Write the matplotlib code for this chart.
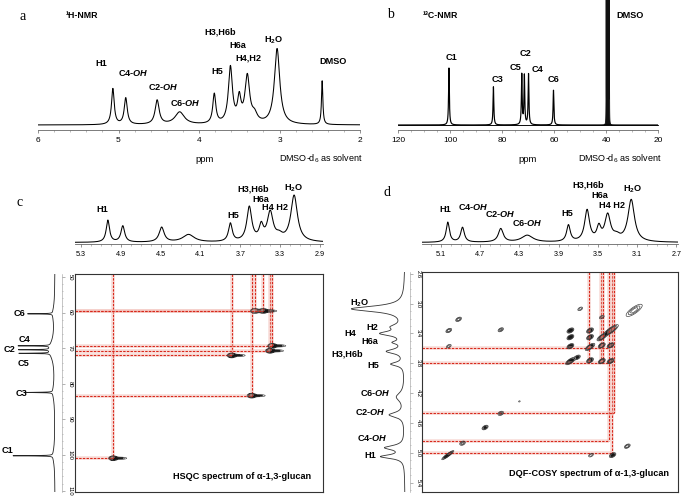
import numpy as np
import matplotlib.pyplot as plt
from matplotlib.ticker import MultipleLocator, FixedLocator

W, H = 685, 498

plt.rcParams["font.family"] = ["Liberation Sans", "DejaVu Sans"]
plt.rcParams["mathtext.fontset"] = "custom"
plt.rcParams["mathtext.rm"] = "Liberation Sans"
plt.rcParams["mathtext.bf"] = "Liberation Sans:bold"
plt.rcParams["mathtext.it"] = "Liberation Sans:bold:italic"

# ── data ────────────────────────────────────────────────────────────────────
# 1H peaks: H1, C4-OH, C2-OH, C6-OH, H5, H3/H6b, H6a, H4, H2, H2O
h1_amp = [0.46, 0.34, 0.31, 0.16, 0.38, 0.72, 0.30, 0.60, 0.10, 0.97]
h1_fwhm = [0.04, 0.045, 0.06, 0.14, 0.045, 0.06, 0.05, 0.07, 0.08, 0.08]
h1_a_ppm = [5.07, 4.91, 4.52, 4.24, 3.81, 3.61, 3.50, 3.40, 3.31, 3.03]    # panel a
h1_cd_ppm = [5.03, 4.88, 4.49, 4.22, 3.80, 3.61, 3.49, 3.40, 3.31, 3.16]   # panels c, d
dmso_h = (2.47, 0.56, 0.02)

# 13C peaks: C1, C3, C5, C2, C4, C6
c13_ppm = [100.4, 83.3, 72.4, 71.4, 69.8, 60.2]
c13_amp = [1.0, 0.67, 0.88, 0.86, 0.89, 0.61]
dmso_c_ppm = [38.87, 39.08, 39.29, 39.5, 39.71, 39.92, 40.13]
dmso_c_amp = [2.6, 3, 3, 3, 3, 3, 2.6]

# HSQC 13C projection (pixel heights) and cross peaks
c13_proj_ppm = [60.3, 69.3, 70.4, 71.4, 82.4, 100.2]
c13_proj_h = [25, 32, 31, 31, 28, 40]
hsqc_h = [4.976, 3.586, 3.787, 3.402, 3.379, 3.553, 3.47]
hsqc_c = [100.9, 83.3, 72.0, 70.7, 69.3, 59.5, 59.5]

# DQF-COSY 1H projection (pixel heights)
cosy_proj_ppm = [3.07, 3.31, 3.40, 3.52, 3.64, 3.81, 4.25, 4.49, 4.93, 5.05]
cosy_proj_h = [53, 10, 22, 9, 17, 13, 8, 15, 19, 23]
cosy_proj_fwhm = [0.09, 0.08, 0.07, 0.05, 0.07, 0.06, 0.14, 0.08, 0.07, 0.06]

# diagonal peaks (x, y, amp, sigma along diagonal, sigma across)
cosy_diag = [
    (5.03, 5.03, 1.0, 0.040, 0.008),
    (4.88, 4.87, 0.40, 0.020, 0.014),
    (4.49, 4.47, 0.40, 0.020, 0.014),
    (4.30, 4.31, 0.15, 0.010, 0.008),
    (3.78, 3.77, 1.0, 0.030, 0.012),
    (3.58, 3.58, 1.0, 0.030, 0.012),
    (3.46, 3.45, 1.0, 0.030, 0.012),
    (3.37, 3.36, 1.0, 0.050, 0.014),
    (3.13, 3.09, 0.42, 0.065, 0.022),
]
# off-diagonal peaks (x, y, amp)
cosy_cross = [
    (3.78, 3.36, 1.0), (3.78, 3.45, 1.0), (3.78, 3.57, 1.0),
    (3.58, 3.36, 1.0), (3.58, 3.45, 1.0), (3.58, 3.76, 1.0),
    (3.46, 3.56, 1.0), (3.37, 3.56, 1.0), (3.46, 3.77, 1.0), (3.37, 3.77, 1.0),
    (3.71, 3.72, 0.6), (3.35, 5.03, 0.8), (3.57, 5.03, 0.3),
    (4.92, 3.21, 0.5), (5.02, 3.36, 0.5), (4.49, 3.35, 0.4), (5.02, 3.57, 0.3),
    (3.20, 4.91, 0.5), (4.65, 4.66, 0.6), (3.68, 3.07, 0.3), (3.46, 3.18, 0.3),
]
cosy_vx = [3.587, 3.464, 3.444, 3.383, 3.352, 3.332]
cosy_vy_end = [3.79, 3.79, 3.79, 4.84, 5.00, 4.47]
cosy_hy = [3.59, 3.79, 4.47, 4.84, 5.00]
cosy_hx_end = [3.40, 3.40, 3.332, 3.383, 3.352]

RED = "#d8281b"


def rect(x0, y0, x1, y1):
    return [x0 / W, 1 - y1 / H, (x1 - x0) / W, (y1 - y0) / H]


def label(x, y, s, size=6.6, weight="bold", **kw):
    fig.text(x / W, 1 - y / H, s, ha="center", va="center", fontsize=size,
             fontweight=weight, **kw)


def lorentz(x, ppm, amp, fwhm):
    y = np.zeros_like(x)
    for p, a, w in zip(ppm, amp, fwhm):
        hw = w / 2
        y += a * hw**2 / ((x - p) ** 2 + hw**2)
    return y


def spectrum_axes(ax, size=6):
    for s in ("top", "right", "left"):
        ax.spines[s].set_visible(False)
    ax.spines["bottom"].set_color("#666")
    ax.spines["bottom"].set_linewidth(0.6)
    ax.set_yticks([])
    ax.tick_params(axis="x", which="major", length=2.5, width=0.5, color="#666",
                   labelsize=size, pad=2.5)
    ax.tick_params(axis="x", which="minor", length=1.5, width=0.4, color="#888")
    ax.patch.set_visible(False)


def red_line(ax, xs, ys):
    ax.plot(xs, ys, color="#f0b4ab", lw=2.6, alpha=0.45, solid_capstyle="butt")
    ax.plot(xs, ys, color=RED, lw=0.8, ls=(0, (2.2, 1.1)))


fig = plt.figure(figsize=(W / 100, H / 100), dpi=100)

# ── a: 1H NMR ───────────────────────────────────────────────────────────────
ax = fig.add_axes(rect(38, 0, 360, 130))
x = np.linspace(6, 2, 5000)
y = lorentz(x, h1_a_ppm + [dmso_h[0]], h1_amp + [dmso_h[1]], h1_fwhm + [dmso_h[2]])
ax.plot(x, y, color="black", lw=0.75)
ax.set_xlim(6, 2)
ax.set_ylim(-5 / 78, 125 / 78)
spectrum_axes(ax)
ax.xaxis.set_major_locator(MultipleLocator(1))
ax.xaxis.set_minor_locator(MultipleLocator(0.2))
ax.xaxis.set_major_formatter(lambda v, p: f"{v:.0f}")

label(23, 16, "a", size=10, weight="normal", family="Liberation Serif")
label(82, 16, "¹H-NMR", size=6.3)
for s, px, py in [("H1", 101, 63), (r"C4-$\mathit{OH}$", 133, 73),
                  (r"C2-$\mathit{OH}$", 163, 87), (r"C6-$\mathit{OH}$", 185, 103),
                  ("H5", 217, 71), ("H3,H6b", 220, 32), ("H6a", 238, 45),
                  ("H4,H2", 248, 58), (r"H$_\mathbf{2}$O", 274, 40), ("DMSO", 333, 61)]:
    label(px, py, s)
label(205, 159, "ppm", size=6.8, weight="normal")
label(321, 159, r"DMSO-d$_\mathrm{6}$ as solvent", size=6.5, weight="normal")

# ── b: 13C NMR ──────────────────────────────────────────────────────────────
ax = fig.add_axes(rect(398, 0, 658, 130))
x = np.linspace(120, 20, 30000)
y = lorentz(x, c13_ppm, c13_amp, [0.35] * len(c13_ppm))
ax.plot(x, y, color="black", lw=0.85)
ax.fill_between(x, 0, lorentz(x, dmso_c_ppm, dmso_c_amp, [0.06] * len(dmso_c_ppm)),
                color="#111", lw=0.6)
ax.set_xlim(120, 20)
ax.set_ylim(-5 / 57, 125 / 57)
spectrum_axes(ax)
ax.xaxis.set_major_locator(MultipleLocator(20))
ax.xaxis.set_minor_locator(MultipleLocator(5))
ax.xaxis.set_major_formatter(lambda v, p: f"{v:.0f}")

label(390, 15, "b", size=10, weight="normal", family="Liberation Serif")
label(440, 15, "¹³C-NMR", size=6.3)
for s, px, py in [("C1", 451, 57), ("C3", 497, 79), ("C5", 515, 67), ("C2", 525, 53),
                  ("C4", 537, 69), ("C6", 554, 79), ("DMSO", 630, 15)]:
    label(px, py, s)
label(528, 159, "ppm", size=6.8, weight="normal")
label(620, 159, r"DMSO-d$_\mathrm{6}$ as solvent", size=6.5, weight="normal")

# ── c/d top 1H spectra ─────────────────────────────────────────────────────
x = np.linspace(5.4, 2.6, 4000)
y = lorentz(x, h1_cd_ppm, h1_amp, h1_fwhm)

for (x0, x1, xl, ticks, hmax) in [
        (75, 323, (5.36, 2.87), [5.3, 4.9, 4.5, 4.1, 3.7, 3.3, 2.9], 47.7),
        (422.3, 678.3, (5.29, 2.68), [5.1, 4.7, 4.3, 3.9, 3.5, 3.1, 2.7], 43.4)]:
    ax = fig.add_axes(rect(x0, 170, x1, 244))
    ax.plot(x, y, color="black", lw=0.75)
    ax.set_xlim(*xl)
    ax.set_ylim(-1.5 / hmax, 72.5 / hmax)
    spectrum_axes(ax, size=5.2)
    ax.xaxis.set_major_locator(FixedLocator(ticks))
    ax.xaxis.set_minor_locator(MultipleLocator(0.1))
    ax.xaxis.set_major_formatter(lambda v, p: f"{v:.1f}")

label(20, 203, "c", size=10, weight="normal", family="Liberation Serif")
for s, px, py in [("H1", 102, 209), ("H5", 233, 215), ("H3,H6b", 253, 189),
                  ("H6a", 261, 199), ("H4 H2", 275, 208), (r"H$_\mathbf{2}$O", 294, 188)]:
    label(px, py, s)

label(387, 192, "d", size=10, weight="normal", family="Liberation Serif")
for s, px, py in [("H1", 445, 209), (r"C4-$\mathit{OH}$", 473, 207),
                  (r"C2-$\mathit{OH}$", 500, 214), (r"C6-$\mathit{OH}$", 527, 223),
                  ("H5", 567, 213), ("H3,H6b", 588, 185), ("H6a", 600, 195),
                  ("H4 H2", 612, 205), (r"H$_\mathbf{2}$O", 633, 189)]:
    label(px, py, s)

# ── c: HSQC ─────────────────────────────────────────────────────────────────
c_ylim = (110.3, 49.2)
ax = fig.add_axes(rect(75, 274.3, 323, 491.7))
X, Y = np.meshgrid(np.linspace(5.36, 2.87, 800), np.linspace(49.2, 110.3, 900))
Z = np.zeros_like(X)
for hx, cy in zip(hsqc_h, hsqc_c):
    Z += np.exp(-((X - hx) ** 2) / (2 * 0.022**2) - (Y - cy) ** 2 / (2 * 0.34**2))
    Z += 0.35 * np.exp(-((X - hx + 0.07) ** 2) / (2 * 0.045**2) - (Y - cy) ** 2 / (2 * 0.22**2))
for hx, cy in zip(hsqc_h, hsqc_c):
    red_line(ax, [hx, hx], [c_ylim[1], cy])
    red_line(ax, [5.36, hx], [cy, cy])
ax.contourf(X, Y, Z, levels=[0.3, 100], colors="#151515")
ax.contour(X, Y, Z, levels=[0.12, 0.22], colors="#333", linewidths=0.4)
ax.set_xlim(5.36, 2.87)
ax.set_ylim(*c_ylim)
ax.set_xticks([])
ax.set_yticks([])
for s in ax.spines.values():
    s.set_linewidth(0.8)
    s.set_color("#333")
ax.text(0.675, 0.07, "HSQC spectrum of α-1,3-glucan", transform=ax.transAxes,
        ha="center", va="center", fontsize=6.6, fontweight="bold")

# 13C projection
ax = fig.add_axes(rect(0, 274.3, 62, 491.7))
yy = np.linspace(49.2, 110.3, 6000)
xx = lorentz(yy, c13_proj_ppm, c13_proj_h, [0.12] * len(c13_proj_ppm))
xx += lorentz(yy, c13_proj_ppm, [2.0] * len(c13_proj_ppm), [5.0] * len(c13_proj_ppm))
ax.plot(xx, yy, color="#222", lw=0.6)
ax.set_xlim(55, -7)
ax.set_ylim(*c_ylim)
for s in ("top", "left", "bottom"):
    ax.spines[s].set_visible(False)
ax.spines["right"].set_linewidth(0.4)
ax.spines["right"].set_color("#999")
ax.set_xticks([])
ax.yaxis.tick_right()
ax.set_yticks([50, 60, 70, 80, 90, 100, 110])
ax.set_yticklabels(["50", "60", "70", "80", "90", "100", "110"], rotation=270,
                   va="center", fontsize=4.2)
ax.yaxis.set_minor_locator(MultipleLocator(2))
ax.tick_params(axis="y", which="major", length=2, width=0.4, color="#777", pad=2)
ax.tick_params(axis="y", which="minor", length=1, width=0.4, color="#999")
ax.patch.set_visible(False)
for s, px, py in [("C6", 19, 314), ("C4", 24, 339), ("C2", 9, 349), ("C5", 23, 363),
                  ("C3", 21, 393), ("C1", 8, 450)]:
    label(px, py, s)

# ── d: DQF-COSY ─────────────────────────────────────────────────────────────
d_xlim = (5.29, 2.68)
d_ylim = (5.52, 2.58)
ax = fig.add_axes(rect(422.3, 272.3, 678.3, 491.7))
X, Y = np.meshgrid(np.linspace(5.29, 2.68, 800), np.linspace(2.58, 5.52, 800))
Z = np.zeros_like(X)
for px_, py_, a, sl, ss in cosy_diag:
    u = ((X - px_) + (Y - py_)) / np.sqrt(2)
    v = ((X - px_) - (Y - py_)) / np.sqrt(2)
    Z += a * np.exp(-u**2 / (2 * sl**2) - v**2 / (2 * ss**2))
for px_, py_, a in cosy_cross:
    u = ((X - px_) + (Y - py_)) / np.sqrt(2)
    v = ((X - px_) - (Y - py_)) / np.sqrt(2)
    Z += a * np.exp(-u**2 / (2 * 0.02**2) - v**2 / (2 * 0.012**2))
for vx, ve in zip(cosy_vx, cosy_vy_end):
    red_line(ax, [vx, vx], [d_ylim[1], ve])
for hy, he in zip(cosy_hy, cosy_hx_end):
    red_line(ax, [d_xlim[0], he], [hy, hy])
ax.contourf(X, Y, Z, levels=[0.5, 100], colors="#151515")
ax.contour(X, Y, Z, levels=[0.1, 0.2, 0.32], colors="#333", linewidths=0.45)
ax.set_xlim(*d_xlim)
ax.set_ylim(*d_ylim)
ax.set_xticks([])
ax.set_yticks([])
for s in ax.spines.values():
    s.set_linewidth(0.8)
    s.set_color("#333")
ax.text(0.651, 0.082, "DQF-COSY spectrum of α-1,3-glucan", transform=ax.transAxes,
        ha="center", va="center", fontsize=6.6, fontweight="bold")

# 1H projection
ax = fig.add_axes(rect(340, 272.3, 410, 491.7))
yy = np.linspace(2.58, 5.52, 4000)
xx = lorentz(yy, cosy_proj_ppm, cosy_proj_h, cosy_proj_fwhm)
ax.plot(xx, yy, color="#333", lw=0.6)
ax.set_xlim(65, -5)
ax.set_ylim(*d_ylim)
for s in ("top", "left", "bottom"):
    ax.spines[s].set_visible(False)
ax.spines["right"].set_linewidth(0.4)
ax.spines["right"].set_color("#999")
ax.set_xticks([])
ax.yaxis.tick_right()
d_ticks = [2.6, 3.0, 3.4, 3.8, 4.2, 4.6, 5.0, 5.4]
ax.set_yticks(d_ticks)
ax.set_yticklabels([f"{t:.1f}" for t in d_ticks], rotation=270, va="center", fontsize=4.2)
ax.yaxis.set_minor_locator(MultipleLocator(0.1))
ax.tick_params(axis="y", which="major", length=2, width=0.4, color="#777", pad=2)
ax.tick_params(axis="y", which="minor", length=1, width=0.4, color="#999")
ax.patch.set_visible(False)
for s, px, py in [(r"H$_\mathbf{2}$O", 360, 303), ("H2", 372, 327), ("H4", 350, 333),
                  ("H6a", 370, 342), ("H3,H6b", 347, 354), ("H5", 373, 365),
                  (r"C6-$\mathit{OH}$", 375, 393), (r"C2-$\mathit{OH}$", 370, 412),
                  (r"C4-$\mathit{OH}$", 372, 438), ("H1", 370, 456)]:
    label(px, py, s)

fig.savefig("out.png", dpi=100)
